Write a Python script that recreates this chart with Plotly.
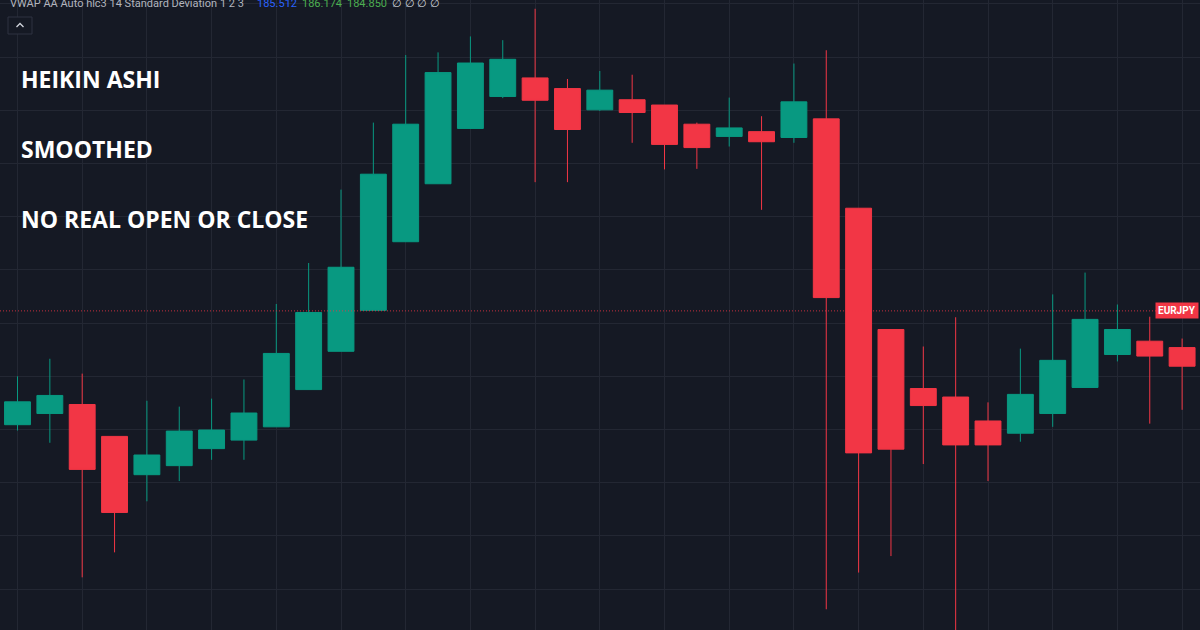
import plotly.graph_objects as go

# Heikin Ashi candles (EURJPY)
bars = list(range(37))
opens = [185.409, 185.430, 185.447, 185.387, 185.315, 185.332, 185.364, 185.380, 185.405, 185.475,
         185.547, 185.624, 185.753, 185.862, 185.966, 186.026, 186.061, 186.041, 186.001, 186.020,
         186.010, 185.974, 185.951, 185.960, 185.949, 185.984, 185.816, 185.588, 185.477, 185.461,
         185.416, 185.393, 185.430, 185.479, 185.541, 185.566, 185.554]
highs = [185.500, 185.533, 185.505, 185.387, 185.454, 185.443, 185.458, 185.494, 185.636, 185.713,
         185.851, 185.977, 186.104, 186.109, 186.139, 186.132, 186.191, 186.059, 186.074, 186.067,
         186.010, 185.977, 186.024, 185.989, 186.088, 186.113, 185.816, 185.588, 185.556, 185.611,
         185.451, 185.552, 185.654, 185.695, 185.635, 185.612, 185.571]
lows = [185.398, 185.375, 185.122, 185.169, 185.265, 185.303, 185.343, 185.343, 185.405, 185.475,
        185.547, 185.624, 185.753, 185.862, 185.966, 186.023, 185.865, 185.865, 185.999, 185.939,
        185.889, 185.890, 185.932, 185.813, 185.939, 185.062, 185.131, 185.162, 185.335, 185.014,
        185.303, 185.377, 185.405, 185.479, 185.528, 185.411, 185.437]
closes = [185.452, 185.464, 185.325, 185.244, 185.352, 185.397, 185.399, 185.431, 185.543, 185.620,
          185.705, 185.880, 185.974, 186.071, 186.089, 186.096, 186.019, 185.964, 186.038, 185.996,
          185.936, 185.930, 185.967, 185.941, 186.016, 185.648, 185.356, 185.363, 185.445, 185.371,
          185.371, 185.466, 185.530, 185.607, 185.588, 185.538, 185.519]

last_price = 185.623
symbol = "EURJPY"
legend_label = "VWAP AA Auto hlc3 14 Standard Deviation 1 2 3"
legend_values = ["185.512", "186.174", "184.850"]
notes = ["HEIKIN ASHI", "SMOOTHED", "NO REAL OPEN OR CLOSE"]

W, H = 1200, 630
BG = "#151924"
GRID = "#232733"
UP = "#089981"
DOWN = "#f23645"


def px(x):
    return x / W


def py(y):
    return 1 - y / H


fig = go.Figure()

fig.add_trace(go.Candlestick(
    x=bars, open=opens, high=highs, low=lows, close=closes,
    increasing=dict(line=dict(color=UP, width=1), fillcolor=UP),
    decreasing=dict(line=dict(color=DOWN, width=1), fillcolor=DOWN),
    whiskerwidth=0,
    hoverinfo="skip",
))

# current price line
fig.add_shape(type="line", xref="paper", x0=0, x1=1, yref="y", y0=last_price, y1=last_price,
              line=dict(color=DOWN, width=1, dash="1px,2px"), opacity=0.8)

# collapse button in the legend area
fig.add_shape(type="rect", xref="paper", yref="paper",
              x0=px(8), x1=px(32), y0=py(34), y1=py(17),
              line=dict(color="#2e3240", width=1), fillcolor=BG)
fig.add_shape(type="path", xref="paper", yref="paper",
              path=f"M {px(16.5)} {py(27)} L {px(20)} {py(23.5)} L {px(23.5)} {py(27)}",
              line=dict(color="#d1d4dc", width=1.3))

legend_font = dict(size=11, family="Roboto")
annotations = [
    dict(text=legend_label, x=px(8), y=py(4), xanchor="left", yanchor="middle",
         font=dict(color="#b2b5be", **legend_font)),
    dict(text=legend_values[0], x=px(255), y=py(4), xanchor="left", yanchor="middle",
         font=dict(color="#2962ff", **legend_font)),
    dict(text=legend_values[1], x=px(300), y=py(4), xanchor="left", yanchor="middle",
         font=dict(color="#4caf50", **legend_font)),
    dict(text=legend_values[2], x=px(345), y=py(4), xanchor="left", yanchor="middle",
         font=dict(color="#4caf50", **legend_font)),
    dict(text="\u2205 \u2205 \u2205 \u2205", x=px(390), y=py(4), xanchor="left", yanchor="middle",
         font=dict(color="#d1d4dc", **legend_font)),
]
for i, note in enumerate(notes):
    annotations.append(dict(text=f"<b>{note}</b>", x=px(19), y=py(79 + 70 * i),
                            xanchor="left", yanchor="middle",
                            font=dict(color="#ffffff", size=23, family="Open Sans")))

annotations.append(dict(text=f"<b>{symbol}</b>", xref="paper", x=px(1199), yref="y", y=last_price,
                        xanchor="right", yanchor="middle", bgcolor=DOWN, borderpad=2,
                        font=dict(color="#ffffff", size=10, family="Roboto")))

for a in annotations:
    a.setdefault("xref", "paper")
    a.setdefault("yref", "paper")
    a["showarrow"] = False

fig.update_layout(
    width=W, height=H,
    margin=dict(l=0, r=0, t=0, b=0),
    paper_bgcolor=BG, plot_bgcolor=BG,
    showlegend=False,
    boxgap=0.2, boxgroupgap=0,
    annotations=annotations,
    xaxis=dict(range=[-0.541, 36.553], tick0=0, dtick=2, showgrid=True, gridcolor=GRID,
               gridwidth=1, zeroline=False, showticklabels=False, ticks="",
               rangeslider=dict(visible=False), fixedrange=True),
    yaxis=dict(range=[185.023, 186.2075], tick0=185.0, dtick=0.1, showgrid=True,
               gridcolor=GRID, gridwidth=1, zeroline=False, showticklabels=False,
               ticks="", fixedrange=True),
)

fig.write_html("out.html", config={"displayModeBar": False},
               post_script="document.body.style.margin='0';document.body.style.background='#151924';")
